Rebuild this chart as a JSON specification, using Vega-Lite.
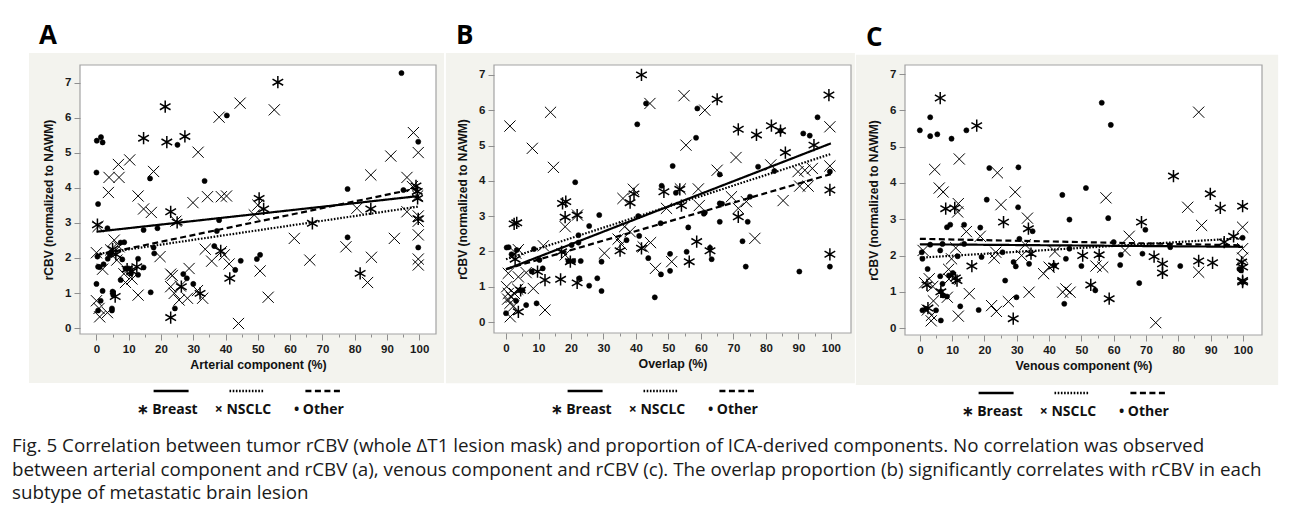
{
"$schema": "https://vega.github.io/schema/vega-lite/v6.json",
"background": "white",
"padding": {"left": 12, "top": 22, "right": 5, "bottom": 5},
"title": {"text": ["Fig. 5 Correlation between tumor rCBV (whole ΔT1 lesion mask) and proportion of ICA-derived components. No correlation was observed", "between arterial component and rCBV (a), venous component and rCBV (c). The overlap proportion (b) significantly correlates with rCBV in each", "subtype of metastatic brain lesion"], "orient": "bottom", "anchor": "start", "frame": "bounds", "dx": -17, "offset": 18, "font": "Open Sans", "fontSize": 18.8, "fontWeight": "normal", "lineHeight": 23.5, "color": "#1a1a1a"},
"datasets": {
"one": [{}],
"leg": [{"g": "Breast", "t": "∗ Breast"}, {"g": "NSCLC", "t": "× NSCLC"}, {"g": "Other", "t": "• Other"}],
"lines": [
{"p":"A","g":"Breast","x":0,"y":2.75},{"p":"A","g":"Breast","x":100,"y":3.77},
{"p":"A","g":"NSCLC","x":0,"y":2.11},{"p":"A","g":"NSCLC","x":100,"y":3.47},
{"p":"A","g":"Other","x":0,"y":2.08},{"p":"A","g":"Other","x":100,"y":4.0},
{"p":"B","g":"Breast","x":0,"y":1.49},{"p":"B","g":"Breast","x":100,"y":5.06},
{"p":"B","g":"NSCLC","x":0,"y":1.78},{"p":"B","g":"NSCLC","x":100,"y":4.76},
{"p":"B","g":"Other","x":0,"y":1.5},{"p":"B","g":"Other","x":100,"y":4.19},
{"p":"C","g":"Breast","x":0,"y":2.31},{"p":"C","g":"Breast","x":100,"y":2.24},
{"p":"C","g":"NSCLC","x":0,"y":1.94},{"p":"C","g":"NSCLC","x":100,"y":2.48},
{"p":"C","g":"Other","x":0,"y":2.46},{"p":"C","g":"Other","x":100,"y":2.28}
],
"pts": [
{"p":"A","g":"Breast","x":56.2,"y":7.02},{"p":"A","g":"Breast","x":21.3,"y":6.32},{"p":"A","g":"Breast","x":14.6,"y":5.42},{"p":"A","g":"Breast","x":21.8,"y":5.31},{"p":"A","g":"Breast","x":27.4,"y":5.47},{"p":"A","g":"Breast","x":50.4,"y":3.7},{"p":"A","g":"Breast","x":51.8,"y":3.4},{"p":"A","g":"Breast","x":23,"y":3.32},{"p":"A","g":"Breast","x":25,"y":3.02},{"p":"A","g":"Breast","x":0.3,"y":2.95},{"p":"A","g":"Breast","x":66.9,"y":2.99},{"p":"A","g":"Breast","x":85,"y":3.4},{"p":"A","g":"Breast","x":81.7,"y":1.56},{"p":"A","g":"Breast","x":41.3,"y":1.42},{"p":"A","g":"Breast","x":26.3,"y":1.18},{"p":"A","g":"Breast","x":32.1,"y":0.99},{"p":"A","g":"Breast","x":23,"y":0.3},{"p":"A","g":"Breast","x":5.8,"y":0.9},{"p":"A","g":"Breast","x":5,"y":2.25},{"p":"A","g":"Breast","x":6,"y":2.1},{"p":"A","g":"Breast","x":9.5,"y":1.68},{"p":"A","g":"Breast","x":11,"y":1.62},{"p":"A","g":"Breast","x":99,"y":4.06},{"p":"A","g":"Breast","x":99.4,"y":3.9},{"p":"A","g":"Breast","x":99.5,"y":3.7},{"p":"A","g":"Breast","x":99.7,"y":3.12},{"p":"A","g":"Breast","x":38.5,"y":2.2},{"p":"A","g":"Breast","x":12.5,"y":1.75},
{"p":"A","g":"NSCLC","x":55.1,"y":6.23},{"p":"A","g":"NSCLC","x":44.5,"y":6.42},{"p":"A","g":"NSCLC","x":38,"y":6.02},{"p":"A","g":"NSCLC","x":31.5,"y":5.02},{"p":"A","g":"NSCLC","x":6.8,"y":4.67},{"p":"A","g":"NSCLC","x":10.3,"y":4.8},{"p":"A","g":"NSCLC","x":3.9,"y":4.3},{"p":"A","g":"NSCLC","x":7,"y":4.3},{"p":"A","g":"NSCLC","x":17.7,"y":4.47},{"p":"A","g":"NSCLC","x":3.7,"y":3.87},{"p":"A","g":"NSCLC","x":12.9,"y":3.77},{"p":"A","g":"NSCLC","x":14.6,"y":3.4},{"p":"A","g":"NSCLC","x":17,"y":3.3},{"p":"A","g":"NSCLC","x":29.9,"y":3.58},{"p":"A","g":"NSCLC","x":34.4,"y":3.75},{"p":"A","g":"NSCLC","x":38.7,"y":3.75},{"p":"A","g":"NSCLC","x":40.3,"y":3.77},{"p":"A","g":"NSCLC","x":50,"y":3.51},{"p":"A","g":"NSCLC","x":48.9,"y":3.23},{"p":"A","g":"NSCLC","x":0.5,"y":2.9},{"p":"A","g":"NSCLC","x":61.3,"y":2.56},{"p":"A","g":"NSCLC","x":80.7,"y":3.42},{"p":"A","g":"NSCLC","x":85,"y":4.37},{"p":"A","g":"NSCLC","x":91.2,"y":4.91},{"p":"A","g":"NSCLC","x":98.2,"y":5.58},{"p":"A","g":"NSCLC","x":99.7,"y":5.01},{"p":"A","g":"NSCLC","x":96.2,"y":4.3},{"p":"A","g":"NSCLC","x":97.9,"y":4.04},{"p":"A","g":"NSCLC","x":99.5,"y":3.77},{"p":"A","g":"NSCLC","x":96.2,"y":3.32},{"p":"A","g":"NSCLC","x":99.7,"y":3.2},{"p":"A","g":"NSCLC","x":99.7,"y":3.05},{"p":"A","g":"NSCLC","x":99.7,"y":2.66},{"p":"A","g":"NSCLC","x":99.7,"y":1.97},{"p":"A","g":"NSCLC","x":99.7,"y":1.8},{"p":"A","g":"NSCLC","x":92.3,"y":2.56},{"p":"A","g":"NSCLC","x":77.3,"y":2.32},{"p":"A","g":"NSCLC","x":85.2,"y":2.02},{"p":"A","g":"NSCLC","x":84,"y":1.3},{"p":"A","g":"NSCLC","x":66.1,"y":1.94},{"p":"A","g":"NSCLC","x":50.7,"y":1.63},{"p":"A","g":"NSCLC","x":41.1,"y":1.83},{"p":"A","g":"NSCLC","x":38.7,"y":2.18},{"p":"A","g":"NSCLC","x":39.6,"y":2.09},{"p":"A","g":"NSCLC","x":35.7,"y":1.91},{"p":"A","g":"NSCLC","x":33.7,"y":2.25},{"p":"A","g":"NSCLC","x":53.2,"y":0.88},{"p":"A","g":"NSCLC","x":44,"y":0.13},{"p":"A","g":"NSCLC","x":28.7,"y":1.7},{"p":"A","g":"NSCLC","x":31.3,"y":1.07},{"p":"A","g":"NSCLC","x":32.9,"y":0.85},{"p":"A","g":"NSCLC","x":28.2,"y":0.85},{"p":"A","g":"NSCLC","x":25.6,"y":0.8},{"p":"A","g":"NSCLC","x":23,"y":1.18},{"p":"A","g":"NSCLC","x":24.1,"y":0.99},{"p":"A","g":"NSCLC","x":23,"y":1.54},{"p":"A","g":"NSCLC","x":12.9,"y":0.94},{"p":"A","g":"NSCLC","x":0,"y":2.15},{"p":"A","g":"NSCLC","x":0,"y":0.78},{"p":"A","g":"NSCLC","x":0.8,"y":0.56},{"p":"A","g":"NSCLC","x":1,"y":0.32},{"p":"A","g":"NSCLC","x":3.4,"y":0.44},{"p":"A","g":"NSCLC","x":1.9,"y":1.68},{"p":"A","g":"NSCLC","x":6.3,"y":1.94},{"p":"A","g":"NSCLC","x":5.5,"y":2.51},{"p":"A","g":"NSCLC","x":4.4,"y":2.23},{"p":"A","g":"NSCLC","x":7,"y":2.32},{"p":"A","g":"NSCLC","x":8.5,"y":1.55},{"p":"A","g":"NSCLC","x":11,"y":1.4},{"p":"A","g":"NSCLC","x":19.7,"y":2.04},{"p":"A","g":"NSCLC","x":24.6,"y":3.05},{"p":"A","g":"NSCLC","x":23.5,"y":1.5},{"p":"A","g":"NSCLC","x":26,"y":1.2},{"p":"A","g":"NSCLC","x":9,"y":1.3},
{"p":"A","g":"Other","x":94.5,"y":7.28},{"p":"A","g":"Other","x":40.4,"y":6.07},{"p":"A","g":"Other","x":25.1,"y":5.23},{"p":"A","g":"Other","x":0.1,"y":5.35},{"p":"A","g":"Other","x":1.4,"y":5.45},{"p":"A","g":"Other","x":1.9,"y":5.3},{"p":"A","g":"Other","x":0,"y":4.44},{"p":"A","g":"Other","x":16.6,"y":4.27},{"p":"A","g":"Other","x":0.5,"y":3.54},{"p":"A","g":"Other","x":33.5,"y":4.2},{"p":"A","g":"Other","x":3.4,"y":2.85},{"p":"A","g":"Other","x":14.6,"y":2.8},{"p":"A","g":"Other","x":18.9,"y":2.85},{"p":"A","g":"Other","x":38,"y":3.08},{"p":"A","g":"Other","x":37.3,"y":2.77},{"p":"A","g":"Other","x":77.8,"y":3.97},{"p":"A","g":"Other","x":95.1,"y":3.94},{"p":"A","g":"Other","x":99.7,"y":5.32},{"p":"A","g":"Other","x":99.7,"y":2.3},{"p":"A","g":"Other","x":77.8,"y":2.59},{"p":"A","g":"Other","x":49.7,"y":1.97},{"p":"A","g":"Other","x":50.7,"y":2.09},{"p":"A","g":"Other","x":44.7,"y":1.92},{"p":"A","g":"Other","x":43,"y":1.66},{"p":"A","g":"Other","x":36.5,"y":2.34},{"p":"A","g":"Other","x":26.9,"y":1.54},{"p":"A","g":"Other","x":28,"y":1.42},{"p":"A","g":"Other","x":30,"y":1.26},{"p":"A","g":"Other","x":24.3,"y":0.56},{"p":"A","g":"Other","x":16.8,"y":1.02},{"p":"A","g":"Other","x":0.3,"y":2.04},{"p":"A","g":"Other","x":0.5,"y":1.75},{"p":"A","g":"Other","x":1,"y":1.74},{"p":"A","g":"Other","x":0,"y":1.26},{"p":"A","g":"Other","x":1.9,"y":1.06},{"p":"A","g":"Other","x":1.3,"y":0.78},{"p":"A","g":"Other","x":0.5,"y":0.5},{"p":"A","g":"Other","x":5,"y":1.04},{"p":"A","g":"Other","x":5.2,"y":0.94},{"p":"A","g":"Other","x":4.8,"y":0.56},{"p":"A","g":"Other","x":4.8,"y":0.5},{"p":"A","g":"Other","x":7.5,"y":2.44},{"p":"A","g":"Other","x":8.6,"y":2.45},{"p":"A","g":"Other","x":4.1,"y":2.09},{"p":"A","g":"Other","x":4.7,"y":2.15},{"p":"A","g":"Other","x":8,"y":1.96},{"p":"A","g":"Other","x":9,"y":1.7},{"p":"A","g":"Other","x":10,"y":1.7},{"p":"A","g":"Other","x":10.7,"y":1.56},{"p":"A","g":"Other","x":12.9,"y":1.98},{"p":"A","g":"Other","x":12.9,"y":1.52},{"p":"A","g":"Other","x":7.5,"y":1.37},{"p":"A","g":"Other","x":14.6,"y":1.73},{"p":"A","g":"Other","x":17.9,"y":2.13},{"p":"A","g":"Other","x":17.7,"y":2.3},{"p":"A","g":"Other","x":2.2,"y":1.82},{"p":"A","g":"Other","x":3.5,"y":1.98},
{"p":"B","g":"Breast","x":41.7,"y":7.0},{"p":"B","g":"Breast","x":65,"y":6.31},{"p":"B","g":"Breast","x":99.4,"y":6.43},{"p":"B","g":"Breast","x":71.5,"y":5.46},{"p":"B","g":"Breast","x":77.1,"y":5.3},{"p":"B","g":"Breast","x":81.7,"y":5.56},{"p":"B","g":"Breast","x":84.5,"y":5.42},{"p":"B","g":"Breast","x":94.8,"y":5.01},{"p":"B","g":"Breast","x":86,"y":4.8},{"p":"B","g":"Breast","x":99.7,"y":3.74},{"p":"B","g":"Breast","x":48.6,"y":3.69},{"p":"B","g":"Breast","x":53.5,"y":3.76},{"p":"B","g":"Breast","x":39.4,"y":3.63},{"p":"B","g":"Breast","x":38.2,"y":3.38},{"p":"B","g":"Breast","x":54,"y":3.3},{"p":"B","g":"Breast","x":71.5,"y":2.98},{"p":"B","g":"Breast","x":99.7,"y":1.92},{"p":"B","g":"Breast","x":41.7,"y":2.09},{"p":"B","g":"Breast","x":56.4,"y":1.71},{"p":"B","g":"Breast","x":58.7,"y":2.28},{"p":"B","g":"Breast","x":62.8,"y":2.02},{"p":"B","g":"Breast","x":35.1,"y":2.02},{"p":"B","g":"Breast","x":21.9,"y":1.11},{"p":"B","g":"Breast","x":19.8,"y":1.71},{"p":"B","g":"Breast","x":21.9,"y":3.03},{"p":"B","g":"Breast","x":18.2,"y":2.97},{"p":"B","g":"Breast","x":17.4,"y":3.36},{"p":"B","g":"Breast","x":18.4,"y":3.41},{"p":"B","g":"Breast","x":17.1,"y":1.99},{"p":"B","g":"Breast","x":16.8,"y":1.21},{"p":"B","g":"Breast","x":12,"y":1.19},{"p":"B","g":"Breast","x":9.7,"y":1.43},{"p":"B","g":"Breast","x":2.5,"y":2.78},{"p":"B","g":"Breast","x":3.3,"y":2.81},{"p":"B","g":"Breast","x":2.8,"y":1.78},{"p":"B","g":"Breast","x":3.8,"y":0.29},{"p":"B","g":"Breast","x":4.5,"y":0.9},
{"p":"B","g":"NSCLC","x":44.3,"y":6.19},{"p":"B","g":"NSCLC","x":54.8,"y":6.41},{"p":"B","g":"NSCLC","x":61.2,"y":6.0},{"p":"B","g":"NSCLC","x":1.2,"y":5.55},{"p":"B","g":"NSCLC","x":13.7,"y":5.94},{"p":"B","g":"NSCLC","x":8.1,"y":4.92},{"p":"B","g":"NSCLC","x":14.6,"y":4.38},{"p":"B","g":"NSCLC","x":55.4,"y":5.01},{"p":"B","g":"NSCLC","x":99.7,"y":5.53},{"p":"B","g":"NSCLC","x":70.8,"y":4.66},{"p":"B","g":"NSCLC","x":65,"y":4.3},{"p":"B","g":"NSCLC","x":81.5,"y":4.45},{"p":"B","g":"NSCLC","x":89.9,"y":4.26},{"p":"B","g":"NSCLC","x":92,"y":4.3},{"p":"B","g":"NSCLC","x":94.3,"y":4.35},{"p":"B","g":"NSCLC","x":90.4,"y":3.85},{"p":"B","g":"NSCLC","x":93,"y":3.85},{"p":"B","g":"NSCLC","x":99.7,"y":4.42},{"p":"B","g":"NSCLC","x":85.3,"y":3.44},{"p":"B","g":"NSCLC","x":53.7,"y":3.77},{"p":"B","g":"NSCLC","x":59.2,"y":3.77},{"p":"B","g":"NSCLC","x":39.2,"y":3.76},{"p":"B","g":"NSCLC","x":59.5,"y":3.3},{"p":"B","g":"NSCLC","x":69.4,"y":3.55},{"p":"B","g":"NSCLC","x":71.5,"y":3.22},{"p":"B","g":"NSCLC","x":74,"y":3.41},{"p":"B","g":"NSCLC","x":76.6,"y":2.37},{"p":"B","g":"NSCLC","x":49.4,"y":3.22},{"p":"B","g":"NSCLC","x":44.5,"y":2.25},{"p":"B","g":"NSCLC","x":42.2,"y":2.13},{"p":"B","g":"NSCLC","x":46,"y":1.52},{"p":"B","g":"NSCLC","x":51,"y":1.71},{"p":"B","g":"NSCLC","x":38.2,"y":2.56},{"p":"B","g":"NSCLC","x":36.5,"y":2.7},{"p":"B","g":"NSCLC","x":34.5,"y":2.35},{"p":"B","g":"NSCLC","x":35.5,"y":2.2},{"p":"B","g":"NSCLC","x":30.3,"y":1.95},{"p":"B","g":"NSCLC","x":18.2,"y":2.7},{"p":"B","g":"NSCLC","x":18.2,"y":1.9},{"p":"B","g":"NSCLC","x":11.5,"y":2.16},{"p":"B","g":"NSCLC","x":12,"y":0.34},{"p":"B","g":"NSCLC","x":8.4,"y":0.95},{"p":"B","g":"NSCLC","x":3,"y":1.95},{"p":"B","g":"NSCLC","x":3.8,"y":2.05},{"p":"B","g":"NSCLC","x":3.8,"y":1.28},{"p":"B","g":"NSCLC","x":0.7,"y":1.38},{"p":"B","g":"NSCLC","x":0.2,"y":1.0},{"p":"B","g":"NSCLC","x":0.7,"y":0.81},{"p":"B","g":"NSCLC","x":1.6,"y":0.7},{"p":"B","g":"NSCLC","x":1.2,"y":0.53},{"p":"B","g":"NSCLC","x":2.6,"y":0.81},{"p":"B","g":"NSCLC","x":3.6,"y":0.93},{"p":"B","g":"NSCLC","x":1.3,"y":0.15},{"p":"B","g":"NSCLC","x":0.5,"y":0.65},{"p":"B","g":"NSCLC","x":2.3,"y":0.45},{"p":"B","g":"NSCLC","x":6.2,"y":1.4},{"p":"B","g":"NSCLC","x":22,"y":3.03},{"p":"B","g":"NSCLC","x":36,"y":3.5},
{"p":"B","g":"Other","x":43.1,"y":6.19},{"p":"B","g":"Other","x":58.9,"y":6.05},{"p":"B","g":"Other","x":40.4,"y":5.6},{"p":"B","g":"Other","x":58.5,"y":5.22},{"p":"B","g":"Other","x":84.5,"y":5.42},{"p":"B","g":"Other","x":91.5,"y":5.34},{"p":"B","g":"Other","x":93.5,"y":5.28},{"p":"B","g":"Other","x":95.9,"y":5.8},{"p":"B","g":"Other","x":65.8,"y":4.18},{"p":"B","g":"Other","x":77.6,"y":4.4},{"p":"B","g":"Other","x":82.6,"y":4.28},{"p":"B","g":"Other","x":99.7,"y":4.26},{"p":"B","g":"Other","x":51.3,"y":4.42},{"p":"B","g":"Other","x":21.3,"y":3.96},{"p":"B","g":"Other","x":47.9,"y":3.86},{"p":"B","g":"Other","x":52.3,"y":3.66},{"p":"B","g":"Other","x":61.2,"y":3.1},{"p":"B","g":"Other","x":65.8,"y":3.36},{"p":"B","g":"Other","x":75.1,"y":3.55},{"p":"B","g":"Other","x":74.4,"y":2.84},{"p":"B","g":"Other","x":65.8,"y":2.84},{"p":"B","g":"Other","x":72.8,"y":2.29},{"p":"B","g":"Other","x":73.8,"y":1.57},{"p":"B","g":"Other","x":90.3,"y":1.43},{"p":"B","g":"Other","x":99.7,"y":1.57},{"p":"B","g":"Other","x":40.7,"y":3.0},{"p":"B","g":"Other","x":47.6,"y":2.8},{"p":"B","g":"Other","x":56.1,"y":2.68},{"p":"B","g":"Other","x":41,"y":2.44},{"p":"B","g":"Other","x":43.8,"y":1.81},{"p":"B","g":"Other","x":47.7,"y":1.35},{"p":"B","g":"Other","x":45.8,"y":0.7},{"p":"B","g":"Other","x":50.5,"y":1.45},{"p":"B","g":"Other","x":50.5,"y":1.93},{"p":"B","g":"Other","x":55.6,"y":1.99},{"p":"B","g":"Other","x":62.8,"y":2.1},{"p":"B","g":"Other","x":63.3,"y":1.78},{"p":"B","g":"Other","x":37.1,"y":2.32},{"p":"B","g":"Other","x":29.4,"y":1.71},{"p":"B","g":"Other","x":28.7,"y":3.03},{"p":"B","g":"Other","x":25.6,"y":2.72},{"p":"B","g":"Other","x":29.4,"y":0.88},{"p":"B","g":"Other","x":28.1,"y":1.24},{"p":"B","g":"Other","x":25.6,"y":1.03},{"p":"B","g":"Other","x":22.6,"y":1.24},{"p":"B","g":"Other","x":23,"y":1.73},{"p":"B","g":"Other","x":20.7,"y":1.73},{"p":"B","g":"Other","x":19.2,"y":1.73},{"p":"B","g":"Other","x":22.3,"y":2.46},{"p":"B","g":"Other","x":22.3,"y":2.25},{"p":"B","g":"Other","x":20.2,"y":2.18},{"p":"B","g":"Other","x":8.6,"y":2.07},{"p":"B","g":"Other","x":11.3,"y":1.52},{"p":"B","g":"Other","x":10.3,"y":1.76},{"p":"B","g":"Other","x":7.9,"y":1.43},{"p":"B","g":"Other","x":9.4,"y":0.53},{"p":"B","g":"Other","x":6.2,"y":0.48},{"p":"B","g":"Other","x":0.2,"y":2.11},{"p":"B","g":"Other","x":0.8,"y":2.12},{"p":"B","g":"Other","x":1.7,"y":1.92},{"p":"B","g":"Other","x":3.3,"y":2.04},{"p":"B","g":"Other","x":5.1,"y":0.9},{"p":"B","g":"Other","x":4.3,"y":0.9},{"p":"B","g":"Other","x":0,"y":0.25},{"p":"B","g":"Other","x":3.1,"y":0.6},{"p":"B","g":"Other","x":66.5,"y":3.35},{"p":"B","g":"Other","x":60.9,"y":3.07},
{"p":"C","g":"Breast","x":6.3,"y":6.34},{"p":"C","g":"Breast","x":17.6,"y":5.58},{"p":"C","g":"Breast","x":78.5,"y":4.19},{"p":"C","g":"Breast","x":8,"y":3.29},{"p":"C","g":"Breast","x":10.8,"y":3.31},{"p":"C","g":"Breast","x":25.9,"y":2.92},{"p":"C","g":"Breast","x":89.9,"y":3.7},{"p":"C","g":"Breast","x":93,"y":3.31},{"p":"C","g":"Breast","x":99.9,"y":3.36},{"p":"C","g":"Breast","x":33.6,"y":2.74},{"p":"C","g":"Breast","x":68.6,"y":2.92},{"p":"C","g":"Breast","x":97.1,"y":2.53},{"p":"C","g":"Breast","x":94.2,"y":2.37},{"p":"C","g":"Breast","x":16.1,"y":1.71},{"p":"C","g":"Breast","x":11.5,"y":1.31},{"p":"C","g":"Breast","x":11,"y":1.38},{"p":"C","g":"Breast","x":2.2,"y":1.19},{"p":"C","g":"Breast","x":34.4,"y":2.05},{"p":"C","g":"Breast","x":28.9,"y":0.26},{"p":"C","g":"Breast","x":41.4,"y":1.71},{"p":"C","g":"Breast","x":50.4,"y":2.0},{"p":"C","g":"Breast","x":52.9,"y":1.19},{"p":"C","g":"Breast","x":55.5,"y":2.02},{"p":"C","g":"Breast","x":58.6,"y":0.81},{"p":"C","g":"Breast","x":72.5,"y":1.97},{"p":"C","g":"Breast","x":75.1,"y":1.77},{"p":"C","g":"Breast","x":75.1,"y":1.52},{"p":"C","g":"Breast","x":86.3,"y":1.85},{"p":"C","g":"Breast","x":90.6,"y":1.8},{"p":"C","g":"Breast","x":99.6,"y":1.82},{"p":"C","g":"Breast","x":99.9,"y":1.68},{"p":"C","g":"Breast","x":99.9,"y":1.31},{"p":"C","g":"Breast","x":99.9,"y":1.27},{"p":"C","g":"Breast","x":2.5,"y":0.55},{"p":"C","g":"Breast","x":6.5,"y":1.0},
{"p":"C","g":"NSCLC","x":86.3,"y":5.95},{"p":"C","g":"NSCLC","x":12.2,"y":4.66},{"p":"C","g":"NSCLC","x":4.6,"y":4.37},{"p":"C","g":"NSCLC","x":24,"y":4.28},{"p":"C","g":"NSCLC","x":6,"y":3.86},{"p":"C","g":"NSCLC","x":7.2,"y":3.75},{"p":"C","g":"NSCLC","x":11.9,"y":3.43},{"p":"C","g":"NSCLC","x":11.7,"y":3.2},{"p":"C","g":"NSCLC","x":25.1,"y":3.4},{"p":"C","g":"NSCLC","x":29.5,"y":3.75},{"p":"C","g":"NSCLC","x":57.6,"y":3.59},{"p":"C","g":"NSCLC","x":82.9,"y":3.33},{"p":"C","g":"NSCLC","x":87.2,"y":2.83},{"p":"C","g":"NSCLC","x":33.3,"y":3.03},{"p":"C","g":"NSCLC","x":14.4,"y":2.66},{"p":"C","g":"NSCLC","x":18.7,"y":2.53},{"p":"C","g":"NSCLC","x":64.8,"y":2.53},{"p":"C","g":"NSCLC","x":99.9,"y":2.78},{"p":"C","g":"NSCLC","x":32.6,"y":2.3},{"p":"C","g":"NSCLC","x":1,"y":2.14},{"p":"C","g":"NSCLC","x":11.1,"y":2.21},{"p":"C","g":"NSCLC","x":9.8,"y":1.91},{"p":"C","g":"NSCLC","x":23,"y":1.93},{"p":"C","g":"NSCLC","x":23.5,"y":2.09},{"p":"C","g":"NSCLC","x":8.9,"y":1.62},{"p":"C","g":"NSCLC","x":2.9,"y":1.36},{"p":"C","g":"NSCLC","x":33.8,"y":0.99},{"p":"C","g":"NSCLC","x":27.4,"y":0.73},{"p":"C","g":"NSCLC","x":22.2,"y":0.62},{"p":"C","g":"NSCLC","x":23.7,"y":0.46},{"p":"C","g":"NSCLC","x":11.9,"y":0.33},{"p":"C","g":"NSCLC","x":15.3,"y":0.95},{"p":"C","g":"NSCLC","x":38.3,"y":1.5},{"p":"C","g":"NSCLC","x":40,"y":1.68},{"p":"C","g":"NSCLC","x":41.8,"y":2.11},{"p":"C","g":"NSCLC","x":44.2,"y":0.99},{"p":"C","g":"NSCLC","x":45.2,"y":1.08},{"p":"C","g":"NSCLC","x":46.5,"y":0.99},{"p":"C","g":"NSCLC","x":54.5,"y":1.71},{"p":"C","g":"NSCLC","x":56.6,"y":1.68},{"p":"C","g":"NSCLC","x":63.5,"y":2.14},{"p":"C","g":"NSCLC","x":73,"y":0.15},{"p":"C","g":"NSCLC","x":86.3,"y":1.54},{"p":"C","g":"NSCLC","x":99.9,"y":1.93},{"p":"C","g":"NSCLC","x":99.9,"y":2.19},{"p":"C","g":"NSCLC","x":4.2,"y":0.75},{"p":"C","g":"NSCLC","x":3.5,"y":0.2},{"p":"C","g":"NSCLC","x":3.6,"y":0.35},{"p":"C","g":"NSCLC","x":4,"y":1.15},{"p":"C","g":"NSCLC","x":9,"y":1.35},{"p":"C","g":"NSCLC","x":8.5,"y":0.85},{"p":"C","g":"NSCLC","x":2.3,"y":0.5},{"p":"C","g":"NSCLC","x":1.5,"y":1.25},{"p":"C","g":"NSCLC","x":31.5,"y":2.0},
{"p":"C","g":"Other","x":3.2,"y":5.81},{"p":"C","g":"Other","x":0,"y":5.45},{"p":"C","g":"Other","x":3.2,"y":5.29},{"p":"C","g":"Other","x":5.4,"y":5.34},{"p":"C","g":"Other","x":9.8,"y":5.22},{"p":"C","g":"Other","x":14.4,"y":5.45},{"p":"C","g":"Other","x":56.3,"y":6.21},{"p":"C","g":"Other","x":59.1,"y":5.6},{"p":"C","g":"Other","x":21.5,"y":4.41},{"p":"C","g":"Other","x":30.5,"y":4.43},{"p":"C","g":"Other","x":20.7,"y":3.54},{"p":"C","g":"Other","x":30.4,"y":3.33},{"p":"C","g":"Other","x":44.1,"y":3.67},{"p":"C","g":"Other","x":51.4,"y":3.86},{"p":"C","g":"Other","x":58.3,"y":3.03},{"p":"C","g":"Other","x":46.3,"y":2.99},{"p":"C","g":"Other","x":34.9,"y":2.67},{"p":"C","g":"Other","x":8.4,"y":2.78},{"p":"C","g":"Other","x":9.4,"y":2.85},{"p":"C","g":"Other","x":13.7,"y":2.85},{"p":"C","g":"Other","x":18.7,"y":2.77},{"p":"C","g":"Other","x":69.8,"y":2.71},{"p":"C","g":"Other","x":99.9,"y":2.49},{"p":"C","g":"Other","x":60,"y":2.37},{"p":"C","g":"Other","x":30.8,"y":2.46},{"p":"C","g":"Other","x":0.6,"y":2.09},{"p":"C","g":"Other","x":0.8,"y":1.91},{"p":"C","g":"Other","x":3.2,"y":2.3},{"p":"C","g":"Other","x":6.3,"y":2.14},{"p":"C","g":"Other","x":7,"y":2.32},{"p":"C","g":"Other","x":11.7,"y":1.98},{"p":"C","g":"Other","x":13.7,"y":2.32},{"p":"C","g":"Other","x":19.1,"y":1.96},{"p":"C","g":"Other","x":25.6,"y":2.09},{"p":"C","g":"Other","x":2.4,"y":1.63},{"p":"C","g":"Other","x":6.3,"y":1.43},{"p":"C","g":"Other","x":7,"y":1.22},{"p":"C","g":"Other","x":6.5,"y":1.01},{"p":"C","g":"Other","x":7.2,"y":0.9},{"p":"C","g":"Other","x":8.4,"y":0.87},{"p":"C","g":"Other","x":9,"y":1.45},{"p":"C","g":"Other","x":10.2,"y":1.52},{"p":"C","g":"Other","x":26.4,"y":1.31},{"p":"C","g":"Other","x":29,"y":1.82},{"p":"C","g":"Other","x":29.7,"y":1.7},{"p":"C","g":"Other","x":33.8,"y":1.77},{"p":"C","g":"Other","x":29.9,"y":0.85},{"p":"C","g":"Other","x":18.2,"y":0.5},{"p":"C","g":"Other","x":12.5,"y":0.6},{"p":"C","g":"Other","x":0.8,"y":0.49},{"p":"C","g":"Other","x":1.9,"y":0.53},{"p":"C","g":"Other","x":5,"y":0.49},{"p":"C","g":"Other","x":6.5,"y":0.21},{"p":"C","g":"Other","x":41.6,"y":1.73},{"p":"C","g":"Other","x":45.2,"y":1.91},{"p":"C","g":"Other","x":46.3,"y":2.19},{"p":"C","g":"Other","x":44.7,"y":0.67},{"p":"C","g":"Other","x":50,"y":1.71},{"p":"C","g":"Other","x":54.3,"y":1.04},{"p":"C","g":"Other","x":62.2,"y":2.02},{"p":"C","g":"Other","x":62,"y":1.74},{"p":"C","g":"Other","x":67.9,"y":1.24},{"p":"C","g":"Other","x":68.9,"y":2.05},{"p":"C","g":"Other","x":80.6,"y":1.71},{"p":"C","g":"Other","x":98.9,"y":1.63},{"p":"C","g":"Other","x":99.4,"y":1.59},{"p":"C","g":"Other","x":77.5,"y":2.23},{"p":"C","g":"Other","x":99.9,"y":1.27}
]
},
"spacing": 0,
"resolve": {"scale": {"x": "independent", "y": "independent"}},
"hconcat": [
{"spacing": 0, "resolve": {"scale": {"x": "independent", "y": "independent"}}, "vconcat": [
 {"title": {"text": "A", "anchor": "start", "dx": 10, "offset": 4, "fontSize": 26, "font": "Open Sans", "fontWeight": "bold", "color": "black"},
  "width": 356, "height": 269,
  "layer": [
   {"data": {"name": "one"}, "mark": {"type": "rect", "fill": "#f3f3ee"}, "encoding": {"x": {"datum": -20.9, "type": "quantitative", "scale": {"domain": [-5.1, 105.2], "nice": false, "zero": false}, "axis": {"orient": "bottom", "title": "Arterial component (%)", "values": [0,5,10,15,20,25,30,35,40,45,50,55,60,65,70,75,80,85,90,95,100], "format": "d", "labelExpr": "datum.value % 10 === 0 ? datum.label : ''", "tickDash": {"condition": {"test": "datum.value % 10 !== 0", "value": [3, 10]}, "value": [6, 0]}, "zindex": 1}}, "x2": {"datum": 107.7}, "y": {"datum": -1.57, "type": "quantitative", "scale": {"domain": [-0.17, 7.51], "nice": false, "zero": false}, "axis": {"orient": "left", "title": "rCBV (normalized to NAWM)", "values": [0,0.5,1,1.5,2,2.5,3,3.5,4,4.5,5,5.5,6,6.5,7,7.5], "format": "d", "labelExpr": "datum.value % 1 === 0 ? datum.label : ''", "tickDash": {"condition": {"test": "datum.value % 1 !== 0", "value": [3, 10]}, "value": [6, 0]}, "zindex": 1}}, "y2": {"datum": 7.85}}},
   {"data": {"name": "one"}, "mark": {"type": "rect", "fill": "white", "stroke": "#a3a3a3", "strokeWidth": 1.2}, "encoding": {"x": {"datum": -5.1, "type": "quantitative", "scale": {"domain": [-5.1, 105.2], "nice": false, "zero": false}, "axis": {"orient": "bottom", "title": "Arterial component (%)", "values": [0,5,10,15,20,25,30,35,40,45,50,55,60,65,70,75,80,85,90,95,100], "format": "d", "labelExpr": "datum.value % 10 === 0 ? datum.label : ''", "tickDash": {"condition": {"test": "datum.value % 10 !== 0", "value": [3, 10]}, "value": [6, 0]}, "zindex": 1}}, "x2": {"datum": 105.2}, "y": {"datum": -0.17, "type": "quantitative", "scale": {"domain": [-0.17, 7.51], "nice": false, "zero": false}, "axis": {"orient": "left", "title": "rCBV (normalized to NAWM)", "values": [0,0.5,1,1.5,2,2.5,3,3.5,4,4.5,5,5.5,6,6.5,7,7.5], "format": "d", "labelExpr": "datum.value % 1 === 0 ? datum.label : ''", "tickDash": {"condition": {"test": "datum.value % 1 !== 0", "value": [3, 10]}, "value": [6, 0]}, "zindex": 1}}, "y2": {"datum": 7.51}}},
   {"data": {"name": "lines"}, "transform": [{"filter": "datum.p === 'A'"}], "mark": {"type": "line", "color": "black", "strokeWidth": 2.2}, "encoding": {"x": {"field": "x", "type": "quantitative", "scale": {"domain": [-5.1, 105.2], "nice": false, "zero": false}, "axis": {"orient": "bottom", "title": "Arterial component (%)", "values": [0,5,10,15,20,25,30,35,40,45,50,55,60,65,70,75,80,85,90,95,100], "format": "d", "labelExpr": "datum.value % 10 === 0 ? datum.label : ''", "tickDash": {"condition": {"test": "datum.value % 10 !== 0", "value": [3, 10]}, "value": [6, 0]}, "zindex": 1}}, "y": {"field": "y", "type": "quantitative", "scale": {"domain": [-0.17, 7.51], "nice": false, "zero": false}, "axis": {"orient": "left", "title": "rCBV (normalized to NAWM)", "values": [0,0.5,1,1.5,2,2.5,3,3.5,4,4.5,5,5.5,6,6.5,7,7.5], "format": "d", "labelExpr": "datum.value % 1 === 0 ? datum.label : ''", "tickDash": {"condition": {"test": "datum.value % 1 !== 0", "value": [3, 10]}, "value": [6, 0]}, "zindex": 1}}, "strokeDash": {"field": "g", "type": "nominal", "scale": {"domain": ["Breast", "NSCLC", "Other"], "range": [[1, 0], [1.6, 1.6], [6, 3.5]]}, "legend": null}}},
   {"data": {"name": "pts"}, "transform": [{"filter": "datum.p === 'A'"}], "mark": {"type": "point", "opacity": 1},
    "encoding": {
     "x": {"field": "x", "type": "quantitative", "scale": {"domain": [-5.1, 105.2], "nice": false, "zero": false}, "axis": {"orient": "bottom", "title": "Arterial component (%)", "values": [0,5,10,15,20,25,30,35,40,45,50,55,60,65,70,75,80,85,90,95,100], "format": "d", "labelExpr": "datum.value % 10 === 0 ? datum.label : ''", "tickDash": {"condition": {"test": "datum.value % 10 !== 0", "value": [3, 10]}, "value": [6, 0]}, "zindex": 1}},
     "y": {"field": "y", "type": "quantitative", "scale": {"domain": [-0.17, 7.51], "nice": false, "zero": false}, "axis": {"orient": "left", "title": "rCBV (normalized to NAWM)", "values": [0,0.5,1,1.5,2,2.5,3,3.5,4,4.5,5,5.5,6,6.5,7,7.5], "format": "d", "labelExpr": "datum.value % 1 === 0 ? datum.label : ''", "tickDash": {"condition": {"test": "datum.value % 1 !== 0", "value": [3, 10]}, "value": [6, 0]}, "zindex": 1}},
     "shape": {"field": "g", "type": "nominal", "scale": {"domain": ["Breast", "NSCLC", "Other"], "range": ["M0,-1L0,1M-0.87,-0.5L0.87,0.5M-0.87,0.5L0.87,-0.5", "M-1,-1L1,1M-1,1L1,-1", "circle"]}, "legend": null},
     "size": {"condition": [{"test": "datum.g === 'Other'", "value": 26}, {"test": "datum.g === 'NSCLC'", "value": 125}], "value": 150},
     "fill": {"condition": {"test": "datum.g === 'Other'", "value": "black"}, "value": "transparent"},
     "stroke": {"value": "black"},
     "strokeWidth": {"condition": [{"test": "datum.g === 'Other'", "value": 0.6}, {"test": "datum.g === 'NSCLC'", "value": 1}], "value": 1.5}
    }}
  ]},
 {"width": 334, "height": 33, "data": {"name": "leg"},
  "layer": [
   {"mark": {"type": "point", "shape": "M-1,0L1,0", "size": 1225, "filled": false, "color": "black", "strokeWidth": 2.6, "opacity": 1},
    "encoding": {"x": {"field": "g", "type": "nominal", "scale": {"type": "band", "domain": ["Breast", "NSCLC", "Other"], "paddingInner": 0, "paddingOuter": 0.7}, "axis": null}, "y": {"datum": "line", "type": "nominal", "scale": {"type": "point", "domain": ["line", "text"], "padding": 0.37}, "axis": null}, "strokeDash": {"field": "g", "type": "nominal", "scale": {"domain": ["Breast", "NSCLC", "Other"], "range": [[1, 0], [1.6, 1.6], [6, 3]]}, "legend": null}}},
   {"mark": {"type": "text", "font": "Open Sans", "fontWeight": "bold", "fontSize": 14, "color": "#111", "dx": -4},
    "encoding": {"x": {"field": "g", "type": "nominal", "scale": {"type": "band", "domain": ["Breast", "NSCLC", "Other"], "paddingInner": 0, "paddingOuter": 0.7}, "axis": null}, "y": {"datum": "text", "type": "nominal", "scale": {"type": "point", "domain": ["line", "text"], "padding": 0.37}, "axis": null}, "text": {"field": "t"}}}
  ]}
]},
{"spacing": 0, "resolve": {"scale": {"x": "independent", "y": "independent"}}, "vconcat": [
 {"title": {"text": "B", "anchor": "start", "dx": 10, "offset": 4, "fontSize": 26, "font": "Open Sans", "fontWeight": "bold", "color": "black"},
  "width": 357, "height": 268,
  "layer": [
   {"data": {"name": "one"}, "mark": {"type": "rect", "fill": "#f3f3ee"}, "encoding": {"x": {"datum": -18.5, "type": "quantitative", "scale": {"domain": [-3.7, 106.2], "nice": false, "zero": false}, "axis": {"orient": "bottom", "title": "Overlap (%)", "values": [0,5,10,15,20,25,30,35,40,45,50,55,60,65,70,75,80,85,90,95,100], "format": "d", "labelExpr": "datum.value % 10 === 0 ? datum.label : ''", "tickDash": {"condition": {"test": "datum.value % 10 !== 0", "value": [3, 10]}, "value": [6, 0]}, "zindex": 1}}, "x2": {"datum": 107.4}, "y": {"datum": -1.73, "type": "quantitative", "scale": {"domain": [-0.31, 7.28], "nice": false, "zero": false}, "axis": {"orient": "left", "title": "rCBV (normalized to NAWM)", "values": [0,0.5,1,1.5,2,2.5,3,3.5,4,4.5,5,5.5,6,6.5,7], "format": "d", "labelExpr": "datum.value % 1 === 0 ? datum.label : ''", "tickDash": {"condition": {"test": "datum.value % 1 !== 0", "value": [3, 10]}, "value": [6, 0]}, "zindex": 1}}, "y2": {"datum": 7.62}}},
   {"data": {"name": "one"}, "mark": {"type": "rect", "fill": "white", "stroke": "#a3a3a3", "strokeWidth": 1.2}, "encoding": {"x": {"datum": -3.7, "type": "quantitative", "scale": {"domain": [-3.7, 106.2], "nice": false, "zero": false}, "axis": {"orient": "bottom", "title": "Overlap (%)", "values": [0,5,10,15,20,25,30,35,40,45,50,55,60,65,70,75,80,85,90,95,100], "format": "d", "labelExpr": "datum.value % 10 === 0 ? datum.label : ''", "tickDash": {"condition": {"test": "datum.value % 10 !== 0", "value": [3, 10]}, "value": [6, 0]}, "zindex": 1}}, "x2": {"datum": 106.2}, "y": {"datum": -0.31, "type": "quantitative", "scale": {"domain": [-0.31, 7.28], "nice": false, "zero": false}, "axis": {"orient": "left", "title": "rCBV (normalized to NAWM)", "values": [0,0.5,1,1.5,2,2.5,3,3.5,4,4.5,5,5.5,6,6.5,7], "format": "d", "labelExpr": "datum.value % 1 === 0 ? datum.label : ''", "tickDash": {"condition": {"test": "datum.value % 1 !== 0", "value": [3, 10]}, "value": [6, 0]}, "zindex": 1}}, "y2": {"datum": 7.28}}},
   {"data": {"name": "lines"}, "transform": [{"filter": "datum.p === 'B'"}], "mark": {"type": "line", "color": "black", "strokeWidth": 2.2}, "encoding": {"x": {"field": "x", "type": "quantitative", "scale": {"domain": [-3.7, 106.2], "nice": false, "zero": false}, "axis": {"orient": "bottom", "title": "Overlap (%)", "values": [0,5,10,15,20,25,30,35,40,45,50,55,60,65,70,75,80,85,90,95,100], "format": "d", "labelExpr": "datum.value % 10 === 0 ? datum.label : ''", "tickDash": {"condition": {"test": "datum.value % 10 !== 0", "value": [3, 10]}, "value": [6, 0]}, "zindex": 1}}, "y": {"field": "y", "type": "quantitative", "scale": {"domain": [-0.31, 7.28], "nice": false, "zero": false}, "axis": {"orient": "left", "title": "rCBV (normalized to NAWM)", "values": [0,0.5,1,1.5,2,2.5,3,3.5,4,4.5,5,5.5,6,6.5,7], "format": "d", "labelExpr": "datum.value % 1 === 0 ? datum.label : ''", "tickDash": {"condition": {"test": "datum.value % 1 !== 0", "value": [3, 10]}, "value": [6, 0]}, "zindex": 1}}, "strokeDash": {"field": "g", "type": "nominal", "scale": {"domain": ["Breast", "NSCLC", "Other"], "range": [[1, 0], [1.6, 1.6], [6, 3.5]]}, "legend": null}}},
   {"data": {"name": "pts"}, "transform": [{"filter": "datum.p === 'B'"}], "mark": {"type": "point", "opacity": 1},
    "encoding": {
     "x": {"field": "x", "type": "quantitative", "scale": {"domain": [-3.7, 106.2], "nice": false, "zero": false}, "axis": {"orient": "bottom", "title": "Overlap (%)", "values": [0,5,10,15,20,25,30,35,40,45,50,55,60,65,70,75,80,85,90,95,100], "format": "d", "labelExpr": "datum.value % 10 === 0 ? datum.label : ''", "tickDash": {"condition": {"test": "datum.value % 10 !== 0", "value": [3, 10]}, "value": [6, 0]}, "zindex": 1}},
     "y": {"field": "y", "type": "quantitative", "scale": {"domain": [-0.31, 7.28], "nice": false, "zero": false}, "axis": {"orient": "left", "title": "rCBV (normalized to NAWM)", "values": [0,0.5,1,1.5,2,2.5,3,3.5,4,4.5,5,5.5,6,6.5,7], "format": "d", "labelExpr": "datum.value % 1 === 0 ? datum.label : ''", "tickDash": {"condition": {"test": "datum.value % 1 !== 0", "value": [3, 10]}, "value": [6, 0]}, "zindex": 1}},
     "shape": {"field": "g", "type": "nominal", "scale": {"domain": ["Breast", "NSCLC", "Other"], "range": ["M0,-1L0,1M-0.87,-0.5L0.87,0.5M-0.87,0.5L0.87,-0.5", "M-1,-1L1,1M-1,1L1,-1", "circle"]}, "legend": null},
     "size": {"condition": [{"test": "datum.g === 'Other'", "value": 26}, {"test": "datum.g === 'NSCLC'", "value": 125}], "value": 150},
     "fill": {"condition": {"test": "datum.g === 'Other'", "value": "black"}, "value": "transparent"},
     "stroke": {"value": "black"},
     "strokeWidth": {"condition": [{"test": "datum.g === 'Other'", "value": 0.6}, {"test": "datum.g === 'NSCLC'", "value": 1}], "value": 1.5}
    }}
  ]},
 {"width": 334, "height": 33, "data": {"name": "leg"},
  "layer": [
   {"mark": {"type": "point", "shape": "M-1,0L1,0", "size": 1225, "filled": false, "color": "black", "strokeWidth": 2.6, "opacity": 1},
    "encoding": {"x": {"field": "g", "type": "nominal", "scale": {"type": "band", "domain": ["Breast", "NSCLC", "Other"], "paddingInner": 0, "paddingOuter": 0.7}, "axis": null}, "y": {"datum": "line", "type": "nominal", "scale": {"type": "point", "domain": ["line", "text"], "padding": 0.37}, "axis": null}, "strokeDash": {"field": "g", "type": "nominal", "scale": {"domain": ["Breast", "NSCLC", "Other"], "range": [[1, 0], [1.6, 1.6], [6, 3]]}, "legend": null}}},
   {"mark": {"type": "text", "font": "Open Sans", "fontWeight": "bold", "fontSize": 14, "color": "#111", "dx": -4},
    "encoding": {"x": {"field": "g", "type": "nominal", "scale": {"type": "band", "domain": ["Breast", "NSCLC", "Other"], "paddingInner": 0, "paddingOuter": 0.7}, "axis": null}, "y": {"datum": "text", "type": "nominal", "scale": {"type": "point", "domain": ["line", "text"], "padding": 0.37}, "axis": null}, "text": {"field": "t"}}}
  ]}
]},
{"spacing": 0, "resolve": {"scale": {"x": "independent", "y": "independent"}}, "vconcat": [
 {"title": {"text": "C", "anchor": "start", "dx": 10, "offset": 4, "fontSize": 26, "font": "Open Sans", "fontWeight": "bold", "color": "black"},
  "width": 357, "height": 270,
  "layer": [
   {"data": {"name": "one"}, "mark": {"type": "rect", "fill": "#f3f3ee"}, "encoding": {"x": {"datum": -19.8, "type": "quantitative", "scale": {"domain": [-4.6, 105.9], "nice": false, "zero": false}, "axis": {"orient": "bottom", "title": "Venous component (%)", "values": [0,5,10,15,20,25,30,35,40,45,50,55,60,65,70,75,80,85,90,95,100], "format": "d", "labelExpr": "datum.value % 10 === 0 ? datum.label : ''", "tickDash": {"condition": {"test": "datum.value % 10 !== 0", "value": [3, 10]}, "value": [6, 0]}, "zindex": 1}}, "x2": {"datum": 110.9}, "y": {"datum": -1.57, "type": "quantitative", "scale": {"domain": [-0.19, 7.25], "nice": false, "zero": false}, "axis": {"orient": "left", "title": "rCBV (normalized to NAWM)", "values": [0,0.5,1,1.5,2,2.5,3,3.5,4,4.5,5,5.5,6,6.5,7], "format": "d", "labelExpr": "datum.value % 1 === 0 ? datum.label : ''", "tickDash": {"condition": {"test": "datum.value % 1 !== 0", "value": [3, 10]}, "value": [6, 0]}, "zindex": 1}}, "y2": {"datum": 7.53}}},
   {"data": {"name": "one"}, "mark": {"type": "rect", "fill": "white", "stroke": "#a3a3a3", "strokeWidth": 1.2}, "encoding": {"x": {"datum": -4.6, "type": "quantitative", "scale": {"domain": [-4.6, 105.9], "nice": false, "zero": false}, "axis": {"orient": "bottom", "title": "Venous component (%)", "values": [0,5,10,15,20,25,30,35,40,45,50,55,60,65,70,75,80,85,90,95,100], "format": "d", "labelExpr": "datum.value % 10 === 0 ? datum.label : ''", "tickDash": {"condition": {"test": "datum.value % 10 !== 0", "value": [3, 10]}, "value": [6, 0]}, "zindex": 1}}, "x2": {"datum": 105.9}, "y": {"datum": -0.19, "type": "quantitative", "scale": {"domain": [-0.19, 7.25], "nice": false, "zero": false}, "axis": {"orient": "left", "title": "rCBV (normalized to NAWM)", "values": [0,0.5,1,1.5,2,2.5,3,3.5,4,4.5,5,5.5,6,6.5,7], "format": "d", "labelExpr": "datum.value % 1 === 0 ? datum.label : ''", "tickDash": {"condition": {"test": "datum.value % 1 !== 0", "value": [3, 10]}, "value": [6, 0]}, "zindex": 1}}, "y2": {"datum": 7.25}}},
   {"data": {"name": "lines"}, "transform": [{"filter": "datum.p === 'C'"}], "mark": {"type": "line", "color": "black", "strokeWidth": 2.2}, "encoding": {"x": {"field": "x", "type": "quantitative", "scale": {"domain": [-4.6, 105.9], "nice": false, "zero": false}, "axis": {"orient": "bottom", "title": "Venous component (%)", "values": [0,5,10,15,20,25,30,35,40,45,50,55,60,65,70,75,80,85,90,95,100], "format": "d", "labelExpr": "datum.value % 10 === 0 ? datum.label : ''", "tickDash": {"condition": {"test": "datum.value % 10 !== 0", "value": [3, 10]}, "value": [6, 0]}, "zindex": 1}}, "y": {"field": "y", "type": "quantitative", "scale": {"domain": [-0.19, 7.25], "nice": false, "zero": false}, "axis": {"orient": "left", "title": "rCBV (normalized to NAWM)", "values": [0,0.5,1,1.5,2,2.5,3,3.5,4,4.5,5,5.5,6,6.5,7], "format": "d", "labelExpr": "datum.value % 1 === 0 ? datum.label : ''", "tickDash": {"condition": {"test": "datum.value % 1 !== 0", "value": [3, 10]}, "value": [6, 0]}, "zindex": 1}}, "strokeDash": {"field": "g", "type": "nominal", "scale": {"domain": ["Breast", "NSCLC", "Other"], "range": [[1, 0], [1.6, 1.6], [6, 3.5]]}, "legend": null}}},
   {"data": {"name": "pts"}, "transform": [{"filter": "datum.p === 'C'"}], "mark": {"type": "point", "opacity": 1},
    "encoding": {
     "x": {"field": "x", "type": "quantitative", "scale": {"domain": [-4.6, 105.9], "nice": false, "zero": false}, "axis": {"orient": "bottom", "title": "Venous component (%)", "values": [0,5,10,15,20,25,30,35,40,45,50,55,60,65,70,75,80,85,90,95,100], "format": "d", "labelExpr": "datum.value % 10 === 0 ? datum.label : ''", "tickDash": {"condition": {"test": "datum.value % 10 !== 0", "value": [3, 10]}, "value": [6, 0]}, "zindex": 1}},
     "y": {"field": "y", "type": "quantitative", "scale": {"domain": [-0.19, 7.25], "nice": false, "zero": false}, "axis": {"orient": "left", "title": "rCBV (normalized to NAWM)", "values": [0,0.5,1,1.5,2,2.5,3,3.5,4,4.5,5,5.5,6,6.5,7], "format": "d", "labelExpr": "datum.value % 1 === 0 ? datum.label : ''", "tickDash": {"condition": {"test": "datum.value % 1 !== 0", "value": [3, 10]}, "value": [6, 0]}, "zindex": 1}},
     "shape": {"field": "g", "type": "nominal", "scale": {"domain": ["Breast", "NSCLC", "Other"], "range": ["M0,-1L0,1M-0.87,-0.5L0.87,0.5M-0.87,0.5L0.87,-0.5", "M-1,-1L1,1M-1,1L1,-1", "circle"]}, "legend": null},
     "size": {"condition": [{"test": "datum.g === 'Other'", "value": 26}, {"test": "datum.g === 'NSCLC'", "value": 125}], "value": 150},
     "fill": {"condition": {"test": "datum.g === 'Other'", "value": "black"}, "value": "transparent"},
     "stroke": {"value": "black"},
     "strokeWidth": {"condition": [{"test": "datum.g === 'Other'", "value": 0.6}, {"test": "datum.g === 'NSCLC'", "value": 1}], "value": 1.5}
    }}
  ]},
 {"width": 334, "height": 33, "data": {"name": "leg"},
  "layer": [
   {"mark": {"type": "point", "shape": "M-1,0L1,0", "size": 1225, "filled": false, "color": "black", "strokeWidth": 2.6, "opacity": 1},
    "encoding": {"x": {"field": "g", "type": "nominal", "scale": {"type": "band", "domain": ["Breast", "NSCLC", "Other"], "paddingInner": 0, "paddingOuter": 0.7}, "axis": null}, "y": {"datum": "line", "type": "nominal", "scale": {"type": "point", "domain": ["line", "text"], "padding": 0.37}, "axis": null}, "strokeDash": {"field": "g", "type": "nominal", "scale": {"domain": ["Breast", "NSCLC", "Other"], "range": [[1, 0], [1.6, 1.6], [6, 3]]}, "legend": null}}},
   {"mark": {"type": "text", "font": "Open Sans", "fontWeight": "bold", "fontSize": 14, "color": "#111", "dx": -4},
    "encoding": {"x": {"field": "g", "type": "nominal", "scale": {"type": "band", "domain": ["Breast", "NSCLC", "Other"], "paddingInner": 0, "paddingOuter": 0.7}, "axis": null}, "y": {"datum": "text", "type": "nominal", "scale": {"type": "point", "domain": ["line", "text"], "padding": 0.37}, "axis": null}, "text": {"field": "t"}}}
  ]}
]}
],
"config": {
 "view": {"stroke": null},
 "font": "Liberation Sans",
 "axis": {"domain": false, "grid": false, "tickSize": 6, "tickColor": "#8f8f8f", "tickWidth": 1, "labelFont": "Liberation Sans", "labelFontWeight": "bold", "labelFontSize": 11.5, "labelColor": "#1a1a1a", "labelOverlap": false, "labelFlush": false, "labelPadding": 3, "titleFont": "Liberation Sans", "titleFontWeight": "bold", "titleColor": "#111"},
 "axisX": {"titlePadding": 4, "titleFontSize": 12.4},
 "axisY": {"titlePadding": 9, "titleFontSize": 12}
}
}
